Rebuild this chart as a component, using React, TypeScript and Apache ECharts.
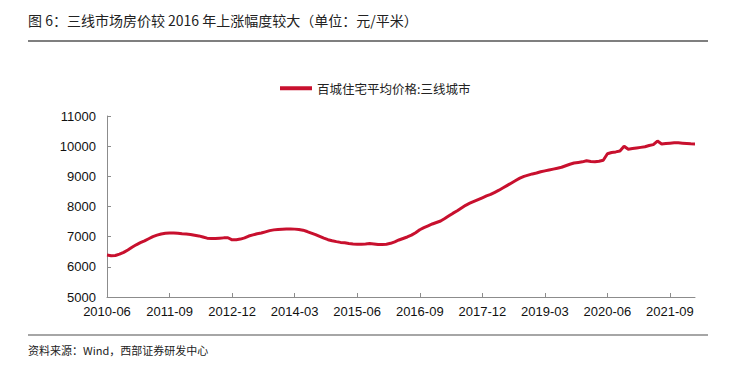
import React, { useEffect, useRef } from "react";
import * as echarts from "echarts";

const startYear = 2010;
const startMonth = 6;
const seriesName = "百城住宅平均价格:三线城市";
const yTicks = [5000, 6000, 7000, 8000, 9000, 10000, 11000];

const priceValues = [
  6390, 6370, 6375, 6420, 6480, 6560, 6650, 6730, 6800, 6860,
  6930, 7000, 7050, 7090, 7115, 7125, 7120, 7110, 7095, 7085,
  7075, 7050, 7025, 6990, 6950, 6940, 6940, 6950, 6960, 6965,
  6895, 6900, 6920, 6960, 7020, 7060, 7095, 7120, 7160, 7200,
  7225, 7240, 7248, 7252, 7255, 7250, 7240, 7215, 7170, 7120,
  7070, 7010, 6950, 6900, 6865, 6835, 6810, 6795, 6775, 6760,
  6750, 6745, 6755, 6770, 6760, 6740, 6738, 6750, 6780, 6830,
  6890, 6940, 6990, 7050, 7130, 7230, 7300, 7360, 7420, 7470,
  7520, 7600, 7690, 7780, 7860, 7950, 8040, 8110, 8170, 8230,
  8290, 8350, 8400, 8470, 8540, 8620, 8700, 8780, 8860, 8940,
  9000, 9040, 9080, 9110, 9150, 9180, 9210, 9240, 9270, 9300,
  9350, 9400, 9440, 9460, 9480, 9515, 9490, 9480, 9500, 9535,
  9750, 9790, 9810, 9840, 10000, 9900, 9920, 9940, 9960, 9980,
  10020, 10050, 10170, 10070, 10090, 10100, 10110, 10110, 10100, 10090,
  10080, 10075,
];

const categories = priceValues.map((_, i) => {
  const m0 = startMonth - 1 + i;
  const y = startYear + Math.floor(m0 / 12);
  const m = (m0 % 12) + 1;
  return `${y}-${m < 10 ? "0" + m : m}`;
});

const titleText = "图 6：三线市场房价较 2016 年上涨幅度较大（单位：元/平米）";
const sourceText = "资料来源：Wind，西部证券研发中心";

export default function App() {
  const ref = useRef<HTMLDivElement>(null);
  useEffect(() => {
    if (!ref.current) return;
    const chart = echarts.init(ref.current, undefined, { renderer: "svg" });
    const cjk = '"Noto Sans CJK SC", "Noto Sans", sans-serif';
    const latin = '"Liberation Sans", Arial, sans-serif';
    chart.setOption({
      animation: false,
      backgroundColor: "#ffffff",
      grid: { left: 107, right: 41, top: 116, bottom: 69 },
      legend: {
        data: [{ name: seriesName, icon: "rect" }],
        left: 275,
        top: 77,
        itemWidth: 32,
        itemHeight: 4,
        itemGap: 4,
        textStyle: { fontFamily: cjk, fontSize: 12.5, color: "#222" },
      },
      xAxis: {
        type: "category",
        data: categories,
        boundaryGap: false,
        axisLine: { lineStyle: { color: "#8c8c8c", width: 1 } },
        axisTick: { inside: true, length: 4, interval: 14, lineStyle: { color: "#8c8c8c" } },
        axisLabel: {
          interval: 14,
          margin: 8,
          fontFamily: latin,
          fontSize: 13,
          color: "#111",
        },
        splitLine: { show: false },
      },
      yAxis: {
        type: "value",
        min: yTicks[0],
        max: yTicks[yTicks.length - 1],
        interval: 1000,
        axisLine: { show: true, lineStyle: { color: "#8c8c8c", width: 1 } },
        axisTick: { show: true, inside: true, length: 4, lineStyle: { color: "#8c8c8c" } },
        axisLabel: {
          margin: 11,
          fontFamily: latin,
          fontSize: 13,
          color: "#111",
          formatter: (v: number) => String(v),
        },
        splitLine: { show: false },
      },
      series: [
        {
          name: seriesName,
          type: "line",
          data: priceValues,
          showSymbol: false,
          symbol: "none",
          smooth: false,
          lineStyle: { color: "#C8102E", width: 3 },
          itemStyle: { color: "#C8102E" },
        },
      ],
      graphic: [
        {
          type: "text",
          left: 28,
          top: 13,
          style: { text: titleText, fontFamily: cjk, fontSize: 14, fill: "#222" },
        },
        {
          type: "line",
          shape: { x1: 28, y1: 41, x2: 708, y2: 41 },
          style: { stroke: "#555", lineWidth: 1.5 },
        },
        {
          type: "line",
          shape: { x1: 28, y1: 335, x2: 708, y2: 335 },
          style: { stroke: "#888", lineWidth: 1.5 },
        },
        {
          type: "text",
          left: 28,
          top: 344,
          style: { text: sourceText, fontFamily: cjk, fontSize: 11, fill: "#222" },
        },
      ],
    });
    return () => chart.dispose();
  }, []);
  return (
    <div
      ref={ref}
      style={{ position: "fixed", left: 0, top: 0, width: 736, height: 366, background: "#fff" }}
    />
  );
}
